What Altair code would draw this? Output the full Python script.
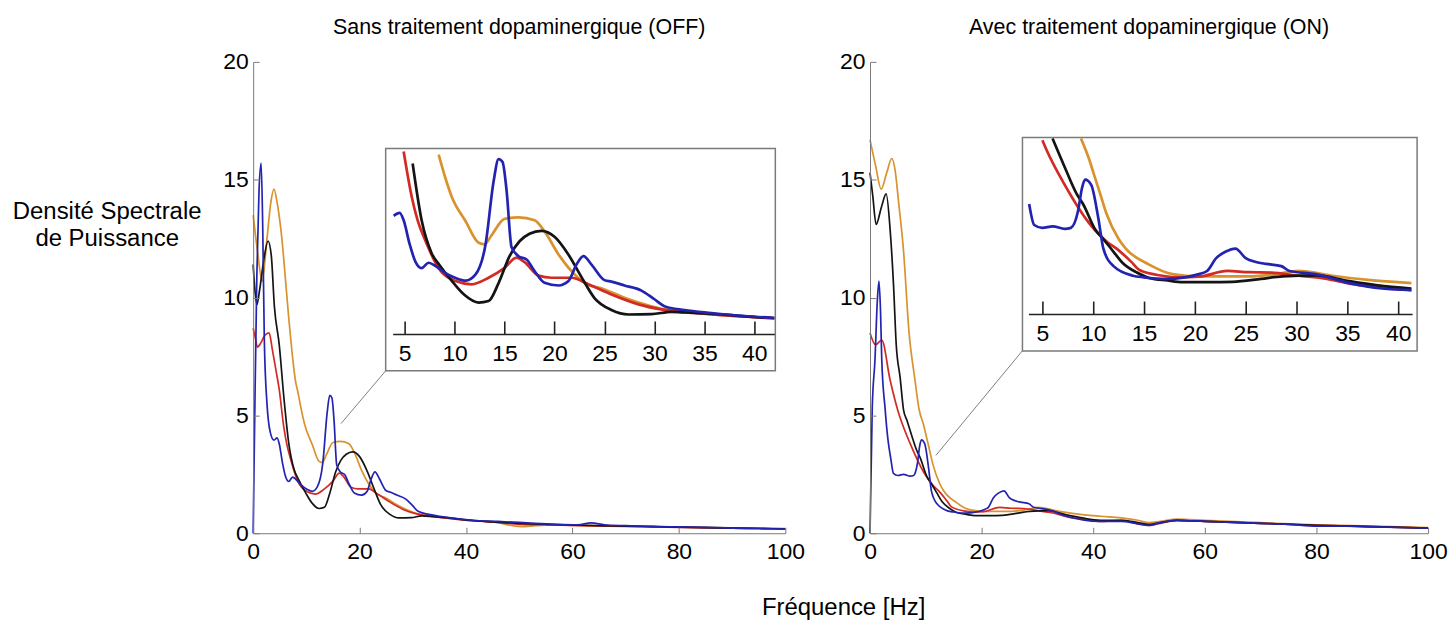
import altair as alt
import pandas as pd

FONT = "Liberation Sans, Arial, Helvetica, sans-serif"

# ---------------- tick labels / texts ----------------
X_TICKS = [0, 20, 40, 60, 80, 100]
Y_TICKS = [0, 5, 10, 15, 20]
INSET_TICKS = [5, 10, 15, 20, 25, 30, 35, 40]
PANEL_TITLES = ["Sans traitement dopaminergique (OFF)", "Avec traitement dopaminergique (ON)"]
X_TITLE = "Fréquence [Hz]"
Y_TITLE = ["Densité Spectrale", "de Puissance"]

SERIES = ["orange", "rouge", "noir", "bleu"]
SERIES_COLORS = ["#d8922e", "#d22a24", "#141414", "#2323b2"]

# ---------------- OFF panel ----------------
OFF_BLUE_HZ = [0, 0.3, 0.7, 1.1, 1.5, 1.8, 2.1, 2.6, 3.2, 3.9, 4.5, 4.9, 5.5, 6.1, 6.7,
               7.4, 8.1, 9.0, 10.1, 11.1, 12.1, 13.1, 13.9, 14.4, 14.8, 15.2, 15.7, 16.4, 17.2, 18.0,
               19.0, 20.4, 21.4, 22.2, 22.9, 23.7, 25.0, 25.7, 27.0, 28.7, 30.0, 31.0, 33.0, 35.7, 39.0,
               42, 46, 50, 53, 57, 61, 63.5, 66, 70, 75, 80, 85, 90, 95, 100]
OFF_BLUE = [0, 5.0, 11.0, 14.5, 15.7, 13.0, 8.2, 5.5, 4.3, 3.95, 4.05, 3.8, 3.0, 2.4, 2.2,
            2.38, 2.27, 2.05, 1.87, 1.78, 1.99, 3.0, 5.1, 5.85, 5.75, 4.8, 2.9, 2.6, 2.49, 2.1,
            1.71, 1.62, 1.77, 2.32, 2.6, 2.32, 1.8, 1.75, 1.62, 1.45, 1.16, 0.93, 0.8, 0.7, 0.6,
            0.54, 0.5, 0.46, 0.42, 0.38, 0.36, 0.44, 0.36, 0.32, 0.29, 0.27, 0.25, 0.22, 0.2, 0.18]

OFF_BLACK_HZ = [0, 0.3, 0.7, 1.2, 2.0, 2.8, 3.4, 4.0, 4.9, 5.8, 6.7, 7.7, 8.5, 9.9, 11.0,
                12.4, 13.4, 14.4, 15.5, 16.5, 17.5, 18.7, 20.0, 21.4, 22.7, 24.0, 25.7, 27.4, 29.7, 31.7,
                34.0, 37.3, 41.0, 45.0, 50.0, 55, 60, 65, 70, 75, 80, 85, 90, 95, 100]
OFF_BLACK = [11.4, 10.4, 9.7, 10.3, 11.6, 12.4, 11.8, 9.6, 8.0, 5.7, 3.8, 2.7, 2.3, 1.7, 1.3,
             1.05, 1.1, 1.7, 2.6, 3.1, 3.35, 3.45, 3.25, 2.65, 1.9, 1.2, 0.8, 0.65, 0.66, 0.74,
             0.7, 0.64, 0.54, 0.48, 0.42, 0.38, 0.35, 0.32, 0.3, 0.28, 0.26, 0.24, 0.22, 0.2, 0.18]

OFF_ORANGE_HZ = [0, 0.8, 1.7, 2.6, 3.3, 3.9, 4.6, 5.4, 6.1, 6.7, 7.3, 8.0, 8.4, 9.0, 9.7,
                 11.1, 12.4, 13.0, 13.7, 15.0, 16.4, 18.0, 19.0, 20.4, 21.7, 23.0, 25.0, 27.0, 29.0, 31.0,
                 34.0, 38.0, 42.0, 46.0, 48.5, 50.5, 53.0, 57.0, 60.0, 70.0, 80.0, 90.0, 100.0]
OFF_ORANGE = [13.5, 12.0, 10.7, 12.5, 14.0, 14.6, 13.9, 12.5, 10.7, 9.1, 7.7, 6.4, 6.0, 5.3, 4.6,
              3.77, 3.05, 3.0, 3.3, 3.85, 3.9, 3.8, 3.43, 2.66, 2.1, 1.71, 1.49, 1.21, 0.99, 0.82,
              0.71, 0.6, 0.52, 0.45, 0.33, 0.28, 0.32, 0.35, 0.33, 0.3, 0.26, 0.23, 0.2]

OFF_RED_HZ = [0, 0.4, 0.8, 1.5, 2.2, 3.0, 3.6, 4.3, 4.9, 5.7, 6.3, 7.1, 8.4, 10.1, 11.7,
              13.4, 15.0, 16.2, 17.0, 18.4, 19.7, 21.7, 23.4, 25.7, 28.4, 30.7, 34.0, 38.0, 42.0, 46.0,
              50.0, 55.0, 60.0, 70.0, 80.0, 90.0, 100.0]
OFF_RED = [8.7, 8.3, 7.9, 8.1, 8.4, 8.5, 7.8, 6.9, 6.1, 4.6, 3.8, 3.1, 2.2, 1.77, 1.66,
           1.88, 2.21, 2.55, 2.4, 1.95, 1.88, 1.88, 1.66, 1.32, 0.99, 0.82, 0.7, 0.6, 0.52, 0.46,
           0.38, 0.36, 0.33, 0.29, 0.25, 0.22, 0.19]

# ---------------- ON panel ----------------
ON_BLUE_HZ = [0, 0.4, 0.9, 1.3, 1.6, 1.9, 2.1, 2.7, 3.2, 3.7, 4.2, 5.0, 6.0, 7.2, 7.8,
              8.5, 8.9, 9.2, 9.8, 10.5, 11.0, 12.0, 13.9, 15.0, 17.2, 19.0, 20.4, 21.2, 22.1, 23.0,
              24.0, 25.0, 26.0, 27.0, 28.5, 29.3, 31.9, 35.2, 38.4, 41.3, 45.0, 48.0, 50.0, 52.0, 55.0,
              60.0, 70.0, 75.0, 80.0, 85.0, 90.0, 100.0]
ON_BLUE = [0, 5.3, 7.4, 9.8, 10.7, 9.3, 7.4, 5.3, 4.0, 3.2, 2.54, 2.45, 2.5, 2.42, 2.45,
           2.97, 3.7, 3.96, 3.8, 2.76, 1.8, 1.25, 0.95, 0.9, 0.85, 0.9, 1.0, 1.1, 1.5, 1.7,
           1.8, 1.5, 1.38, 1.32, 1.25, 1.1, 1.0, 0.72, 0.55, 0.5, 0.5, 0.4, 0.33, 0.45, 0.55,
           0.5, 0.42, 0.38, 0.3, 0.3, 0.27, 0.22]

ON_BLACK_HZ = [0, 0.5, 1.1, 2.0, 2.9, 3.6, 4.2, 4.7, 5.4, 6.0, 6.6, 7.4, 8.4, 9.0, 10.2,
               11.0, 12.0, 12.9, 14.3, 15.5, 17.3, 18.8, 21.4, 23.7, 26.5, 28.6, 31.9, 35.2, 38.0, 41.3,
               45.0, 48.0, 50.0, 52.0, 55.0, 60.0, 70.0, 80.0, 90.0, 100.0]
ON_BLACK = [15.3, 14.3, 13.1, 13.8, 14.4, 12.9, 10.6, 8.0, 6.6, 5.25, 4.8, 4.2, 3.5, 3.2, 2.4,
            2.1, 1.7, 1.35, 1.05, 0.88, 0.8, 0.75, 0.75, 0.76, 0.85, 0.93, 0.96, 0.78, 0.65, 0.55,
            0.55, 0.45, 0.38, 0.45, 0.55, 0.5, 0.42, 0.34, 0.28, 0.22]

ON_RED_HZ = [0, 1.0, 2.1, 3.6, 5.0, 5.4, 7.2, 9.6, 11.4, 12.3, 13.7, 14.6, 16.8, 18.5, 20.4,
             23.2, 25.3, 27.5, 30.2, 33.0, 35.2, 38.0, 41.3, 45.0, 48.0, 50.0, 52.0, 55.0, 60.0, 70.0,
             80.0, 90.0, 100.0]
ON_RED = [8.5, 8.0, 8.2, 6.5, 5.2, 4.9, 3.8, 2.6, 2.0, 1.8, 1.4, 1.12, 0.95, 0.9, 0.92,
          1.1, 1.06, 1.05, 0.95, 0.85, 0.7, 0.6, 0.5, 0.55, 0.4, 0.33, 0.42, 0.55, 0.5, 0.42,
          0.34, 0.28, 0.22]

ON_ORANGE_HZ = [0, 1.0, 2.0, 3.0, 3.9, 4.5, 5.1, 6.0, 7.0, 8.0, 8.8, 9.6, 10.0, 10.7, 11.3,
                12.5, 13.2, 15.5, 17.8, 20.4, 25.3, 28.0, 30.2, 33.5, 37.0, 41.3, 45.0, 48.0, 50.0, 52.0,
                55.0, 60.0, 70.0, 80.0, 90.0, 100.0]
ON_ORANGE = [16.7, 15.6, 14.6, 15.3, 15.9, 15.4, 14.1, 12.0, 8.5, 6.6, 5.25, 4.6, 4.2, 3.5, 2.9,
             2.1, 1.8, 1.3, 1.0, 0.93, 0.93, 1.0, 1.1, 0.95, 0.82, 0.72, 0.65, 0.55, 0.45, 0.5,
             0.6, 0.55, 0.45, 0.36, 0.3, 0.24]

# zoom callout line (inset corner -> point on the curve), in main-axis units [hz0, dsp0, hz1, dsp1]
CONNECTOR_OFF = [24.9, 6.89, 16.5, 4.65]
CONNECTOR_ON = [27.3, 7.74, 11.8, 3.3]


def long_df(parts):
    rows = []
    for name, hz, vals in parts:
        for h, v in zip(hz, vals):
            rows.append({"serie": name, "hz": h, "dsp": v})
    return pd.DataFrame(rows)


DF_OFF = long_df([("orange", OFF_ORANGE_HZ, OFF_ORANGE), ("rouge", OFF_RED_HZ, OFF_RED),
                  ("noir", OFF_BLACK_HZ, OFF_BLACK), ("bleu", OFF_BLUE_HZ, OFF_BLUE)])
DF_ON = long_df([("orange", ON_ORANGE_HZ, ON_ORANGE), ("rouge", ON_RED_HZ, ON_RED),
                 ("noir", ON_BLACK_HZ, ON_BLACK), ("bleu", ON_BLUE_HZ, ON_BLUE)])

# layout (pixels inside each panel's plot area) -- not data
H = 473
LAYOUT_OFF = dict(W=534, ix=[3.8, 42.0], irx=[140, 523], iy=[0.0, 6.2], iry=[273, 87],
                  box=[3.1, 42.1, -1.23, 6.2], axis_y=273)
LAYOUT_ON = dict(W=560, ix=[3.63, 41.37], irx=[159, 544], iy=[-0.25, 5.28], iry=[253, 76],
                 box=[3.04, 41.86, -1.41, 5.28], axis_y=253)

AXIS_GREY = "#7a7a7a"
HELPER = dict(minExtent=0, maxExtent=0, title=None, zindex=1)


def panel(df, lay, conn, title, first):
    W = lay["W"]
    color = alt.Color("serie:N", scale=alt.Scale(domain=SERIES, range=SERIES_COLORS), legend=None)
    xmain = alt.Scale(domain=[0, 100], nice=False, zero=False)
    ymain = alt.Scale(domain=[0, 20], nice=False, zero=False)

    common = dict(ticks=False, labelFontSize=23, domainColor=AXIS_GREY, labelFlush=False,
                  labelOverlap=False, zindex=1)
    if first:
        xaxis = alt.Axis(values=X_TICKS, labelPadding=7, **common,
                         title=X_TITLE, titleFontSize=24, titleFontWeight="normal",
                         titleX=592, titleY=75, titleBaseline="middle", titleAlign="center")
        yaxis = alt.Axis(values=Y_TICKS, labelPadding=5, **common,
                         title=Y_TITLE, titleAngle=0, titleAlign="center", titleBaseline="alphabetic",
                         titleX=-147, titleY=157, titleFontSize=24, titleFontWeight="normal",
                         titleLineHeight=27)
    else:
        xaxis = alt.Axis(values=X_TICKS, labelPadding=7, title=None, **common)
        yaxis = alt.Axis(values=Y_TICKS, labelPadding=5, title=None, **common)

    main = alt.Chart(df).mark_line(strokeWidth=1.7, interpolate="monotone").encode(
        x=alt.X("hz:Q", scale=xmain, axis=xaxis),
        y=alt.Y("dsp:Q", scale=ymain, axis=yaxis),
        color=color,
    )

    conn_df = pd.DataFrame({"x": [conn[0]], "y": [conn[1]], "x2": [conn[2]], "y2": [conn[3]]})
    connector = alt.Chart(conn_df).mark_rule(color="#808080", strokeWidth=1).encode(
        x=alt.X("x:Q", scale=xmain,
                axis=alt.Axis(orient="top", offset=-H, values=X_TICKS, labels=False, domain=False,
                              tickSize=6, tickColor=AXIS_GREY, **HELPER)),
        x2="x2:Q",
        y=alt.Y("y:Q", scale=ymain,
                axis=alt.Axis(orient="right", offset=-W, values=Y_TICKS, labels=False, domain=False,
                              tickSize=6, tickColor=AXIS_GREY, **HELPER)),
        y2="y2:Q",
    )

    xin = alt.Scale(domain=lay["ix"], range=lay["irx"], nice=False, zero=False)
    yin = alt.Scale(domain=lay["iy"], range=lay["iry"], nice=False, zero=False)
    b = lay["box"]
    box_df = pd.DataFrame({"x": [b[0]], "x2": [b[1]], "y": [b[2]], "y2": [b[3]]})
    box = alt.Chart(box_df).mark_rect(fill="white", stroke=AXIS_GREY, strokeWidth=1.5).encode(
        x=alt.X("x:Q", scale=xin,
                axis=alt.Axis(orient="top", offset=-lay["axis_y"], values=INSET_TICKS, labels=False,
                              domain=True, domainColor="#222222", domainWidth=1.6, tickSize=13,
                              tickColor="#222222", tickWidth=1.6, **HELPER)),
        x2="x2:Q",
        y=alt.Y("y:Q", scale=yin, axis=None),
        y2="y2:Q",
    )

    flt = (f"datum.hz >= {lay['ix'][0]} && datum.hz <= {lay['ix'][1]} "
           f"&& datum.dsp <= {lay['iy'][1]}")
    inset = alt.Chart(df).transform_filter(flt).mark_line(
        strokeWidth=2.7, interpolate="monotone"
    ).encode(
        x=alt.X("hz:Q", scale=xin,
                axis=alt.Axis(orient="bottom", offset=-(H - lay["axis_y"]), values=INSET_TICKS,
                              ticks=False, domain=False, labelFontSize=23, labelPadding=9,
                              labelFlush=False, labelOverlap=False, **HELPER)),
        y=alt.Y("dsp:Q", scale=yin, axis=None),
        color=color,
    )

    return alt.layer(main, connector, box, inset).resolve_scale(
        x="independent", y="independent"
    ).resolve_axis(x="independent", y="independent").properties(
        width=W, height=H,
        title=alt.Title(title, fontSize=21.5, fontWeight="normal", anchor="middle",
                        baseline="bottom", offset=-10, color="black", font=FONT),
    )


left = panel(DF_OFF, LAYOUT_OFF, CONNECTOR_OFF, PANEL_TITLES[0], True)
right = panel(DF_ON, LAYOUT_ON, CONNECTOR_ON, PANEL_TITLES[1], False)

chart = alt.hconcat(left, right, spacing=85, bounds="flush").properties(
    padding={"left": 4, "top": 8, "right": 0, "bottom": 0},
    background="white",
).configure_view(stroke=None).configure_axis(
    grid=False, labelFont=FONT, titleFont=FONT, labelColor="black", titleColor="black"
).configure_title(font=FONT)

chart.save("out.html", embed_options={"renderer": "svg", "actions": False})
